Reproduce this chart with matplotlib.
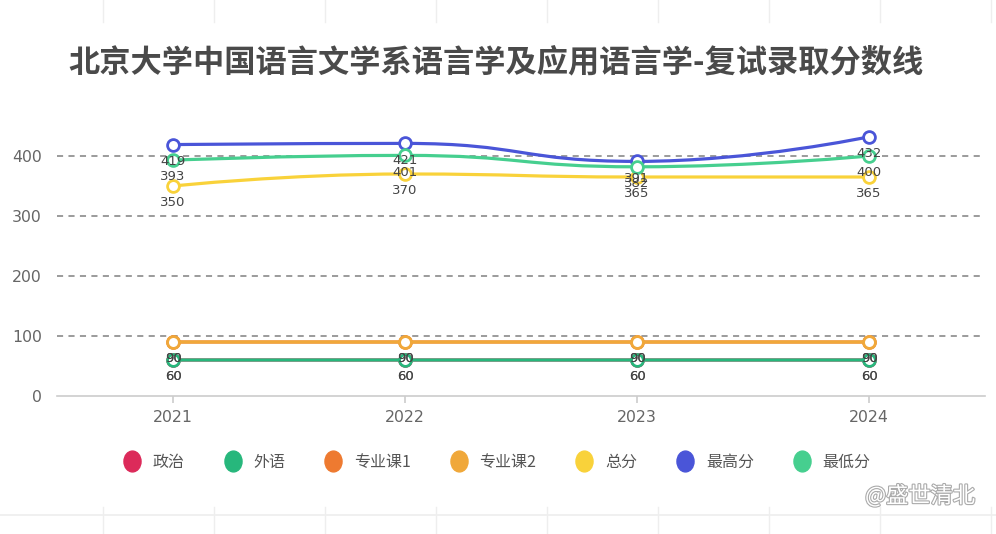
import matplotlib.pyplot as plt
import numpy as np
from matplotlib.path import Path
from matplotlib.patches import PathPatch
from matplotlib.lines import Line2D
import matplotlib.patheffects as pe

plt.rcParams['font.family'] = ['Noto Sans CJK SC', 'DejaVu Sans']

# Data
years = ['2021', '2022', '2023', '2024']
series_names = ['政治', '外语', '专业课1', '专业课2', '总分', '最高分', '最低分']
politics = [60, 60, 60, 60]
language = [60, 60, 60, 60]
major1 = [90, 90, 90, 90]
major2 = [90, 90, 90, 90]
total = [350, 370, 365, 365]
highest = [419, 421, 391, 432]
lowest = [393, 401, 382, 400]
all_series = [politics, language, major1, major2, total, highest, lowest]
colors = ['#dc2a5a', '#27b77c', '#ee7a30', '#f0a83a', '#f9d23a', '#4a55d8', '#46cf8f']


def clamp(v, a, b):
    return np.minimum(np.maximum(v, np.minimum(a, b)), np.maximum(a, b))


def smooth_path(ax, xs, ys, smooth=0.5):
    # bezier smoothing like echarts "smooth: true" (control points kept
    # between neighbouring points so the curve does not overshoot)
    pts = ax.transData.transform(np.column_stack([xs, ys]).astype(float))
    n = len(pts)
    cin = [None] * n
    cout = [None] * n
    cout[0] = pts[0]
    cin[n - 1] = pts[n - 1]
    for i in range(1, n - 1):
        p, prev, nxt = pts[i], pts[i - 1], pts[i + 1]
        l0 = np.hypot(*(p - prev))
        l1 = np.hypot(*(nxt - p))
        r = l1 / (l0 + l1)
        v = nxt - prev
        c_in = p - v * smooth * (1 - r)
        c_out = p + v * smooth * r
        c_out = clamp(c_out, p, nxt)
        c_in = p - (c_out - p) * l0 / l1
        c_in = clamp(c_in, prev, p)
        c_out = p + (p - c_in) * l1 / l0
        cin[i], cout[i] = c_in, c_out
    verts = [pts[0]]
    codes = [Path.MOVETO]
    for i in range(n - 1):
        verts += [cout[i], cin[i + 1], pts[i + 1]]
        codes += [Path.CURVE4] * 3
    verts = ax.transData.inverted().transform(np.array(verts))
    return Path(verts, codes)


fig = plt.figure(figsize=(9.96, 5.34), dpi=100)
ax = fig.add_axes([57 / 996, (534 - 396) / 534, 928 / 996, 276 / 534])
x = np.arange(len(years))
ax.set_xlim(-0.5, len(years) - 0.5)
ax.set_ylim(0, 460)

# Lines, markers and value labels
for k, (vals, color) in enumerate(zip(all_series, colors)):
    path = smooth_path(ax, x, vals)
    ax.add_patch(PathPatch(path, fill=False, edgecolor=color, lw=2.3,
                           zorder=3 + k, capstyle='round', joinstyle='round'))
    ax.plot(x, vals, 'o', ms=8.5, mfc='white', mec=color, mew=2.0, zorder=3 + k)
for k, vals in enumerate(all_series):
    for xi, v in zip(x, vals):
        ax.annotate(str(v), (xi, v), xytext=(0, -12), textcoords='offset points',
                    ha='center', va='center', fontsize=9.5, color='#444444',
                    family='DejaVu Sans', zorder=20)

# Axes styling
ax.set_yticks([0, 100, 200, 300, 400])
ax.set_xticks(x)
ax.set_xticklabels(years)
for gy in [100, 200, 300, 400]:
    ax.axhline(gy, color='#808080', lw=1.1, dashes=(4, 3.5), zorder=1)
for s in ['top', 'right', 'left']:
    ax.spines[s].set_visible(False)
ax.spines['bottom'].set_color('#cccccc')
ax.spines['bottom'].set_linewidth(1.2)
ax.tick_params(axis='y', length=0, pad=11, labelsize=11.3, labelcolor='#666666')
ax.tick_params(axis='x', length=5, width=1.2, color='#cccccc', pad=5,
               labelsize=11.3, labelcolor='#666666')
for lab in ax.get_xticklabels() + ax.get_yticklabels():
    lab.set_family('DejaVu Sans')

# Title
fig.text(0.498, (534 - 62) / 534, '北京大学中国语言文学系语言学及应用语言学-复试录取分数线',
         ha='center', va='center', fontsize=22.5, fontweight='bold', color='#4a4a4a')

# Legend with slightly tall round icons
ell = Path.unit_circle()
ell = Path(ell.vertices * [0.82, 1.0], ell.codes)
handles = [Line2D([], [], marker=ell, ls='none', ms=15, mfc=c, mec=c) for c in colors]
fig.legend(handles, series_names, loc='center', ncol=7, frameon=False,
           bbox_to_anchor=(0.4985, (534 - 462) / 534), fontsize=11.5,
           handletextpad=0.7, columnspacing=2.4, labelcolor='#555555',
           handlelength=1.2)

# Watermark
fig.text(0.979, (534 - 496) / 534, '@盛世清北', ha='right', va='center',
         fontsize=16, color='white',
         path_effects=[pe.withStroke(linewidth=1.6, foreground='#aaaaaa')])

# faint page lines at top and bottom of the screenshot
for xp in np.arange(103, 996, 111):
    fig.add_artist(Line2D([xp / 996, xp / 996], [1, 1 - 22 / 534], color='#eeeeee', lw=1))
    fig.add_artist(Line2D([xp / 996, xp / 996], [0, 27 / 534], color='#eeeeee', lw=1))
fig.add_artist(Line2D([0, 1], [19 / 534, 19 / 534], color='#eeeeee', lw=1.2))

fig.savefig('out.png', dpi=100)
